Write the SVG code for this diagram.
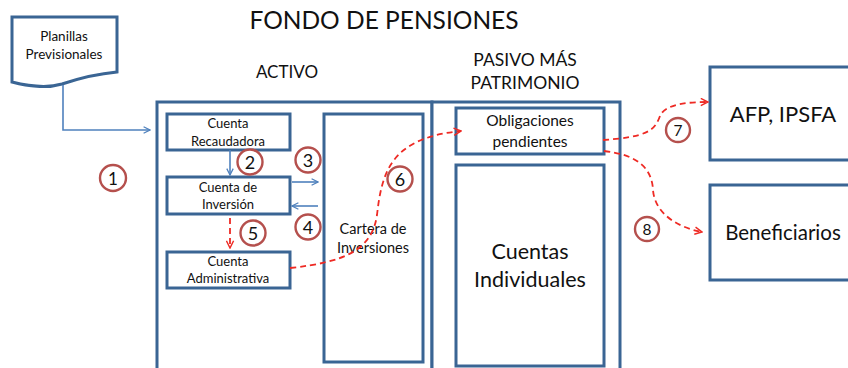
<svg xmlns="http://www.w3.org/2000/svg" width="848" height="368" viewBox="0 0 848 368">
<defs>
<style>
text{font-family:Lato,"Open Sans","Liberation Sans",sans-serif;fill:#111;text-anchor:middle}
.box{fill:#fff;stroke:#3a6594;stroke-width:3}
.num{fill:#fff;stroke:#b5504d;stroke-width:2.4}
.blue{fill:none;stroke:#4f81bd;stroke-width:1.6}
.red{fill:none;stroke:#ee2a24;stroke-width:1.8;stroke-dasharray:6 4}
</style>
<marker id="ab" viewBox="0 0 10 10" refX="9" refY="5" markerWidth="8" markerHeight="8" markerUnits="userSpaceOnUse" orient="auto"><path d="M1,1 L9,5 L1,9" fill="none" stroke="#4f81bd" stroke-width="1.6"/></marker>
<marker id="ar" viewBox="0 0 10 10" refX="9" refY="5" markerWidth="9" markerHeight="9" markerUnits="userSpaceOnUse" orient="auto"><path d="M1,1 L9,5 L1,9" fill="none" stroke="#ee2a24" stroke-width="1.6"/></marker>
</defs>
<rect width="848" height="368" fill="#fff"/>
<text x="384" y="29" font-size="24.5">FONDO DE PENSIONES</text>
<text x="287" y="78" font-size="17">ACTIVO</text>
<text x="525" y="66" font-size="17.5">PASIVO MÁS</text>
<text x="525" y="89" font-size="17.5">PATRIMONIO</text>

<g id="activo"><rect class="box" x="157" y="102" width="275" height="280"/></g>
<g id="pasivo"><rect class="box" x="432" y="102" width="188" height="280"/></g>

<g id="planillas"><path class="box" d="M12,17 H117 V72 C95,74 80,78 62,84 C45,89 28,86 12,82 Z"/>
<text x="64" y="41" font-size="13.5">Planillas</text><text x="64" y="59" font-size="13.5">Previsionales</text></g>
<g id="recaudadora"><rect class="box" x="167" y="114" width="123" height="36"/>
<text x="228" y="128" font-size="13">Cuenta</text><text x="228" y="146" font-size="13">Recaudadora</text></g>
<g id="inversion"><rect class="box" x="167" y="177" width="123" height="37"/>
<text x="228" y="192" font-size="13">Cuenta de</text><text x="228" y="209" font-size="13">Inversión</text></g>
<g id="administrativa"><rect class="box" x="167" y="252" width="123" height="36"/>
<text x="228" y="266" font-size="13">Cuenta</text><text x="228" y="283" font-size="13">Administrativa</text></g>
<g id="cartera"><rect class="box" x="324" y="114" width="99" height="248"/>
<text x="373" y="234" font-size="14.5">Cartera de</text><text x="373" y="253" font-size="14.5">Inversiones</text></g>
<g id="obligaciones"><rect class="box" x="456" y="108" width="148" height="46"/>
<text x="530" y="126" font-size="15.5">Obligaciones</text><text x="530" y="147" font-size="15.5">pendientes</text></g>
<g id="individuales"><rect class="box" x="456" y="165" width="148" height="201"/>
<text x="530" y="259" font-size="21.5">Cuentas</text><text x="530" y="287" font-size="21.5">Individuales</text></g>
<g id="afp"><rect class="box" x="710" y="67" width="150" height="93"/>
<text x="783" y="122" font-size="22">AFP, IPSFA</text></g>
<g id="beneficiarios"><rect class="box" x="710" y="185" width="150" height="95"/>
<text x="783" y="240" font-size="20.5">Beneficiarios</text></g>

<g id="connectors">
<path class="blue" d="M63,85 V130 H150" marker-end="url(#ab)"/>
<path class="blue" d="M230,150 V175" marker-end="url(#ab)"/>
<path class="blue" d="M292,182 H318" marker-end="url(#ab)"/>
<path class="blue" d="M318,206 H292" marker-end="url(#ab)"/>
<path class="red" d="M230,218 V248" marker-end="url(#ar)"/>
<path class="red" d="M290,268 C345,262 372,250 377,215 C382,170 392,138 461,131" marker-end="url(#ar)"/>
<path class="red" d="M603,140 C648,137 655,130 660,116 C665,104 688,102 708,102" marker-end="url(#ar)"/>
<path class="red" d="M604,151 C640,155 652,170 653,190 C655,215 680,228 702,232" marker-end="url(#ar)"/>
</g>

<g id="n1"><circle class="num" cx="113" cy="178" r="13"/><text x="113" y="184.5" font-size="17">1</text></g>
<g id="n2"><circle class="num" cx="250" cy="162" r="12.5"/><text x="250" y="168.5" font-size="18">2</text></g>
<g id="n3"><circle class="num" cx="308" cy="160" r="12.5"/><text x="308" y="166.5" font-size="18">3</text></g>
<g id="n4"><circle class="num" cx="308" cy="227" r="12.5"/><text x="308" y="233.5" font-size="18">4</text></g>
<g id="n5"><circle class="num" cx="253" cy="233" r="12.5"/><text x="253" y="239.5" font-size="18">5</text></g>
<g id="n6"><circle class="num" cx="400" cy="179" r="12.5"/><text x="400" y="185.5" font-size="18">6</text></g>
<g id="n7"><circle class="num" cx="678" cy="130" r="12"/><text x="678" y="135.5" font-size="15.5">7</text></g>
<g id="n8"><circle class="num" cx="647" cy="229" r="12"/><text x="647" y="234.5" font-size="15.5">8</text></g>
</svg>
